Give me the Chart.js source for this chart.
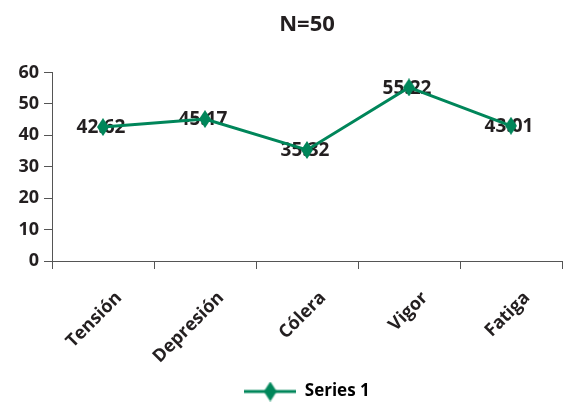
<!DOCTYPE html>
<html>
<head>
<meta charset="utf-8">
<script src="https://cdn.jsdelivr.net/npm/chart.js@4"></script>
<style>
  html, body { margin: 0; padding: 0; background: #fff; overflow: hidden; }
</style>
</head>
<body>
<canvas id="poms" width="574" height="402"></canvas>
<script>
const categories = ['Tensión', 'Depresión', 'Cólera', 'Vigor', 'Fatiga'];
const series1 = [42.62, 45.17, 35.32, 55.22, 43.01];
const yMin = 0;
const yMax = 60;
const yStep = 10;

const green = '#00865a';
const ink = '#231f20';
const axisColor = '#555';
const fontFamily = '"Open Sans", sans-serif';

// tall narrow diamond used as the point marker
function diamond(w, h) {
  const c = document.createElement('canvas');
  c.width = w;
  c.height = h;
  const g = c.getContext('2d');
  g.fillStyle = green;
  g.beginPath();
  g.moveTo(w / 2, 0);
  g.lineTo(w, h / 2);
  g.lineTo(w / 2, h);
  g.lineTo(0, h / 2);
  g.closePath();
  g.fill();
  return c;
}

// legend swatch: short line with a diamond in the middle
function legendSwatch() {
  const c = document.createElement('canvas');
  c.width = 52;
  c.height = 20;
  const g = c.getContext('2d');
  g.strokeStyle = green;
  g.lineWidth = 3;
  g.beginPath();
  g.moveTo(0, 10);
  g.lineTo(52, 10);
  g.stroke();
  g.drawImage(diamond(13, 20), 19.5, 0);
  return c;
}

// value labels sit right on the points, under the markers
const valueLabels = {
  id: 'valueLabels',
  beforeDatasetsDraw(chart) {
    const ctx = chart.ctx;
    const meta = chart.getDatasetMeta(0);
    ctx.save();
    ctx.font = 'bold 19px ' + fontFamily;
    ctx.fillStyle = ink;
    ctx.textAlign = 'center';
    ctx.textBaseline = 'middle';
    meta.data.forEach((pt, i) => {
      ctx.fillText(series1[i].toFixed(2), pt.x - 2, pt.y + 1);
    });
    ctx.restore();
  }
};

// category names, slanted 45 degrees, ending a bit right of each point
const slantedLabels = {
  id: 'slantedLabels',
  afterDraw(chart) {
    const ctx = chart.ctx;
    const xs = chart.scales.x;
    ctx.save();
    ctx.font = 'bold 18px ' + fontFamily;
    ctx.fillStyle = ink;
    ctx.textAlign = 'right';
    ctx.textBaseline = 'middle';
    categories.forEach((name, i) => {
      ctx.save();
      ctx.translate(xs.getPixelForTick(i) + 16, xs.top + 34);
      ctx.rotate(-Math.PI / 4);
      ctx.fillText(name, 0, 0);
      ctx.restore();
    });
    ctx.restore();
  }
};

new Chart(document.getElementById('poms'), {
  type: 'line',
  data: {
    labels: categories,
    datasets: [{
      label: 'Series 1',
      data: series1,
      borderColor: green,
      backgroundColor: green,
      borderWidth: 3,
      pointStyle: diamond(12, 18),
      pointRadius: 9,
      tension: 0
    }]
  },
  options: {
    responsive: false,
    animation: false,
    layout: { padding: { top: 0, left: 0, right: 0, bottom: -8 } },
    plugins: {
      tooltip: { enabled: false },
      title: {
        display: true,
        text: 'N=50',
        fullSize: false,
        color: ink,
        font: { family: fontFamily, size: 22, weight: 'bold' },
        padding: { top: 12, bottom: 34 }
      },
      legend: {
        position: 'bottom',
        fullSize: false,
        labels: {
          usePointStyle: true,
          pointStyleWidth: 52,
          color: ink,
          font: { family: fontFamily, size: 17, weight: 'bold' },
          padding: 2,
          generateLabels: chart => [{
            text: chart.data.datasets[0].label,
            pointStyle: legendSwatch(),
            fillStyle: green,
            strokeStyle: green,
            lineWidth: 0,
            hidden: false,
            datasetIndex: 0
          }]
        }
      }
    },
    scales: {
      x: {
        type: 'category',
        offset: true,
        afterFit: scale => { scale.height = 120; },
        grid: {
          offset: true,
          drawOnChartArea: false,
          drawTicks: true,
          tickLength: 8,
          color: axisColor
        },
        border: { display: true, color: axisColor, width: 1 },
        ticks: { display: false }
      },
      y: {
        min: yMin,
        max: yMax,
        afterFit: scale => { scale.width = 52; },
        grid: {
          drawOnChartArea: false,
          drawTicks: true,
          tickLength: 8,
          color: axisColor
        },
        border: { display: true, color: axisColor, width: 1 },
        ticks: {
          stepSize: yStep,
          color: ink,
          font: { family: fontFamily, size: 18, weight: 'bold' },
          padding: 5
        }
      }
    }
  },
  plugins: [valueLabels, slantedLabels]
});
</script>
</body>
</html>
